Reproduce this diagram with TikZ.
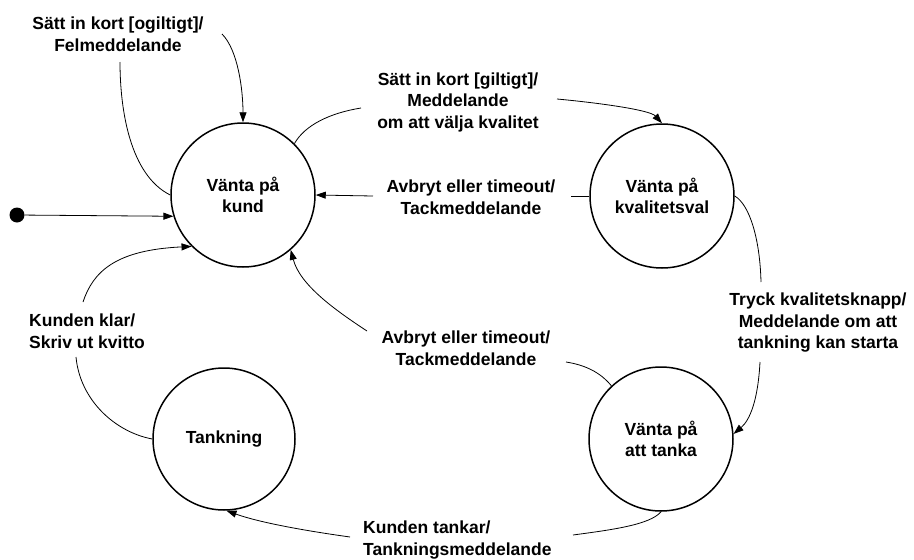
\documentclass[tikz,border=0pt]{standalone}
\usepackage{fontspec}
\setmainfont{Liberation Sans}
\usetikzlibrary{arrows.meta}
\tikzset{
  state/.style={circle,draw=black,line width=1.5pt,minimum size=144pt,inner sep=0pt,align=center,font=\fontsize{17.5}{21.5}\selectfont\bfseries},
  lbl/.style={inner sep=0pt,align=center,font=\fontsize{17.5}{21.5}\selectfont\bfseries},
  conn/.style={draw=black,line width=0.8pt},
  arr/.style={conn,-{Triangle[length=10pt,width=7pt]}},
  initdot/.style={circle,fill=black,minimum size=15pt,inner sep=0pt}
}
\begin{document}
\begin{tikzpicture}[x=1pt,y=-1pt]
\useasboundingbox (0,0) rectangle (914,560);
% states
\node[state] (kund) at (243,195) {Vänta på\\kund};
\node[state] (kval) at (662,196) {Vänta på\\kvalitetsval};
\node[state] (tanka) at (661,439) {Vänta på\\att tanka};
\node[state,minimum size=142pt] (tankning) at (224,439) {Tankning};
\node[initdot] (init) at (17,215) {};
% labels
\node[lbl] (lblA) at (118,34) {Sätt in kort [ogiltigt]/\\Felmeddelande};
\node[lbl] (lblB) at (458,102) {Sätt in kort [giltigt]/\\Meddelande\\om att välja kvalitet};
\node[lbl] (lblC) at (471,197) {Avbryt eller timeout/\\Tackmeddelande};
\node[lbl] (lblD) at (818,323) {Tryck kvalitetsknapp/\\Meddelande om att\\tankning kan starta};
\node[lbl] (lblE) at (466,348) {Avbryt eller timeout/\\Tackmeddelande};
\node[lbl,align=left,anchor=west] (lblF) at (363,540) {Kunden tankar/\\Tankningsmeddelande};
\node[lbl,align=left,anchor=west] (lblG) at (29,331) {Kunden klar/\\Skriv ut kvitto};
% free ends of connectors
\coordinate (a1) at (120,62);
\coordinate (a2) at (222,34);
\coordinate (b1) at (361,108);
\coordinate (b2) at (557,99);
\coordinate (c1) at (571,196);
\coordinate (c2) at (373,196);
\coordinate (d1) at (761,282);
\coordinate (d2) at (760,362);
\coordinate (e1) at (566,362);
\coordinate (e2) at (367,331);
\coordinate (f1) at (573,535);
\coordinate (f2) at (350,537);
\coordinate (g1) at (76,357);
\coordinate (g2) at (83,302);
% initial
\draw[arr] (init) -- (kund.197);
% self loop on kund
\draw[conn] (kund.180) .. controls (130,175) and (120,110) .. (a1);
\draw[arr] (a2) .. controls (238,50) and (243,90) .. (kund.north);
% kund -> kval
\draw[conn] (kund.45) .. controls (305,125) and (330,113) .. (b1);
\draw[arr] (b2) .. controls (600,103) and (650,110) .. (kval.north);
% kval -> kund
\draw[conn] (kval.west) -- (c1);
\draw[arr] (c2) -- (kund.east);
% kval -> tanka
\draw[conn] (kval.east) .. controls (750,205) and (760,240) .. (d1);
\draw[arr] (d2) .. controls (758,400) and (750,420) .. (tanka.4);
% tanka -> kund
\draw[conn] (tanka.133) .. controls (600,372) and (585,365) .. (e1);
\draw[arr] (e2) .. controls (335,310) and (300,285) .. (kund.311);
% tanka -> tankning
\draw[conn] (tanka.south) .. controls (650,525) and (610,530) .. (f1);
\draw[arr] (f2) .. controls (300,530) and (258,522) .. (tankning.-88);
% tankning -> kund
\draw[conn] (tankning.west) .. controls (115,432) and (80,400) .. (g1);
\draw[arr] (g2) .. controls (93,272) and (115,250) .. (kund.225);
\end{tikzpicture}
\end{document}
